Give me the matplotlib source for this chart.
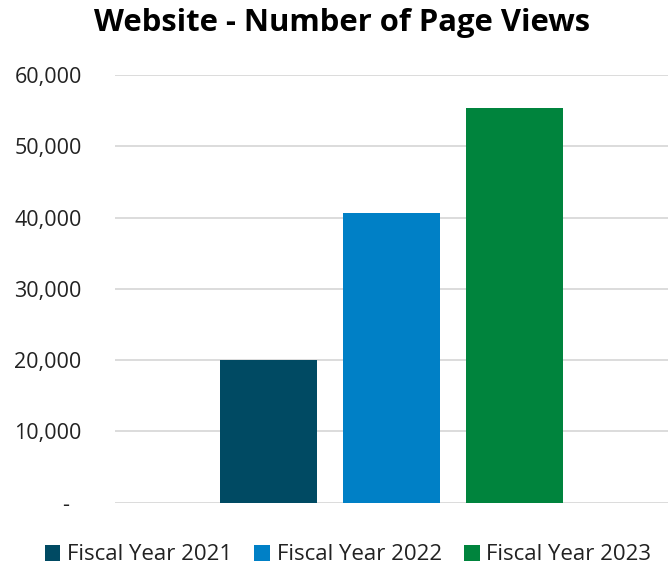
import matplotlib.pyplot as plt
from matplotlib.ticker import FuncFormatter

plt.rcParams['font.family'] = ['Open Sans', 'DejaVu Sans']

series = ["Fiscal Year 2021", "Fiscal Year 2022", "Fiscal Year 2023"]
page_views = [20000, 40640, 55370]
colors = ["#004a63", "#0080c6", "#00843d"]

fig = plt.figure(figsize=(6.71, 5.68), dpi=100)
ax = fig.add_axes([115 / 671, 1 - 502.7 / 568, 553 / 671, 427.7 / 568])

for i, (name, val, c) in enumerate(zip(series, page_views, colors)):
    ax.bar(i, val, width=0.789, color=c, label=name, zorder=2)

ax.set_xlim(-1.248, 3.248)
ax.set_ylim(0, 60000)
ax.set_yticks(range(0, 60001, 10000))
# accounting-style axis: zero shown as a dash, set in from the right edge
ax.yaxis.set_major_formatter(FuncFormatter(lambda v, p: "-  " if v == 0 else f"{int(v):,}"))
ax.set_xticks([])
ax.grid(axis="y", color="#d9d9d9", linewidth=1.3, zorder=0)
for s in ax.spines.values():
    s.set_visible(False)
ax.tick_params(axis="y", length=0, labelsize=15.5, pad=24, colors="#222222")

fig.text(342 / 671, 1 - 23 / 568, "Website - Number of Page Views", ha="center", va="center",
         fontsize=22.3, fontweight="bold")

fig.legend(loc="center", bbox_to_anchor=(348 / 671, 1 - 555 / 568), ncol=3, frameon=False,
           fontsize=16, handlelength=0.7, handleheight=0.7, handletextpad=0.3,
           columnspacing=1.0, labelcolor="#222222")

fig.savefig("out.png", dpi=100)
